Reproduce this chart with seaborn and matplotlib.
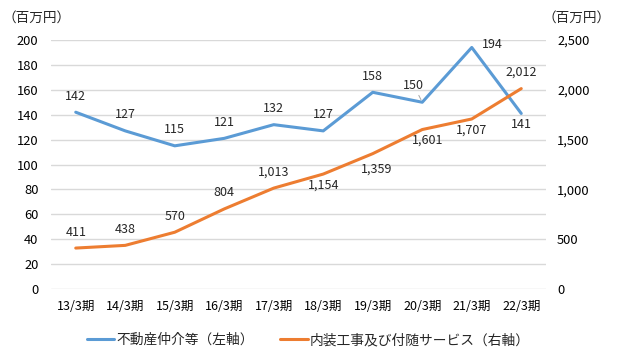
import matplotlib
matplotlib.use("Agg")
import matplotlib.pyplot as plt
import pandas as pd
import seaborn as sns

periods = ["13/3期", "14/3期", "15/3期", "16/3期", "17/3期",
           "18/3期", "19/3期", "20/3期", "21/3期", "22/3期"]
brokerage = [142, 127, 115, 121, 132, 127, 158, 150, 194, 141]
interior = [411, 438, 570, 804, 1013, 1154, 1359, 1601, 1707, 2012]

brokerage_name = "不動産仲介等（左軸）"
interior_name = "内装工事及び付随サービス（右軸）"

# label placement (offset in points) per point, as in the reference
brokerage_offsets = [(0, 11.5), (0, 11.5), (0, 11.5), (0, 11.5), (0, 11.5),
                     (0, 11.5), (0, 11.5), (-6, 12), (15, 2), (0, -8)]
interior_offsets = [(0, 11.5), (0, 11.5), (0, 11.5), (0, 11.5), (0, 11.5),
                    (0, -8), (3, -11.5), (4, -7.5), (0, -8), (0, 11.5)]

BLUE = "#5B9BD5"
ORANGE = "#ED7D31"
GRID = "#D9D9D9"
FS = 9

sns.set_theme(style="white")
plt.rcParams["font.family"] = ["Noto Sans CJK JP", "DejaVu Sans"]
plt.rcParams["font.size"] = FS

df = pd.DataFrame({"period": periods, "brokerage": brokerage, "interior": interior})
df["x"] = range(len(df))

fig = plt.figure(figsize=(6.19, 3.61), dpi=100)
ax = fig.add_axes([51 / 619, 1 - 289 / 361, 495 / 619, 249 / 361])
ax2 = ax.twinx()

sns.lineplot(data=df, x="x", y="brokerage", ax=ax, color=BLUE, linewidth=2.2,
             label=brokerage_name, legend=False)
sns.lineplot(data=df, x="x", y="interior", ax=ax2, color=ORANGE, linewidth=2.2,
             label=interior_name, legend=False)

ax.set_xlim(-0.5, len(periods) - 0.5)
ax.set_ylim(0, 200)
ax2.set_ylim(0, 2500)
ax.set_yticks(range(0, 201, 20))
ax2.set_yticks(range(0, 2501, 500))
ax2.set_yticklabels([f"{v:,}" for v in range(0, 2501, 500)])
ax.set_xticks(df["x"])
ax.set_xticklabels(periods)
ax.set_xlabel("")
ax.set_ylabel("")
ax2.set_ylabel("")

# gridlines live on the lower axes so they stay behind all labels
ax.grid(axis="y", color=GRID, linewidth=1)
ax.set_axisbelow(True)
for a in (ax, ax2):
    for s in a.spines.values():
        s.set_visible(False)
    a.tick_params(length=0, colors="black", labelsize=FS)
ax.tick_params(axis="y", pad=9, labelsize=9.3)
ax.tick_params(axis="x", pad=8)
ax2.tick_params(axis="y", pad=8, labelsize=9.3)
ax2.patch.set_visible(False)

for i, (v, off) in enumerate(zip(brokerage, brokerage_offsets)):
    kw = {}
    if i == 7:
        kw["arrowprops"] = dict(arrowstyle="-", color="#A6A6A6", lw=0.7, shrinkA=0, shrinkB=2)
    ax.annotate(f"{v:,}", (i, v), xytext=off, textcoords="offset points",
                ha="center", va="center", fontsize=FS, **kw)
for i, (v, off) in enumerate(zip(interior, interior_offsets)):
    ax2.annotate(f"{v:,}", (i, v), xytext=off, textcoords="offset points",
                 ha="center", va="center", fontsize=FS)

fig.text(2 / 619, 1 - 18 / 361, "（百万円）", ha="left", va="center", fontsize=9.8)
fig.text(543 / 619, 1 - 18 / 361, "（百万円）", ha="left", va="center", fontsize=9.8)

handles = [ax.get_lines()[0], ax2.get_lines()[0]]
fig.legend(handles, [brokerage_name, interior_name], loc="center",
           bbox_to_anchor=(0.498, 1 - 340 / 361), ncol=2, frameon=False,
           handlelength=2.0, columnspacing=1.9, fontsize=9.9, handletextpad=0.15)

fig.savefig("out.png", dpi=100)
